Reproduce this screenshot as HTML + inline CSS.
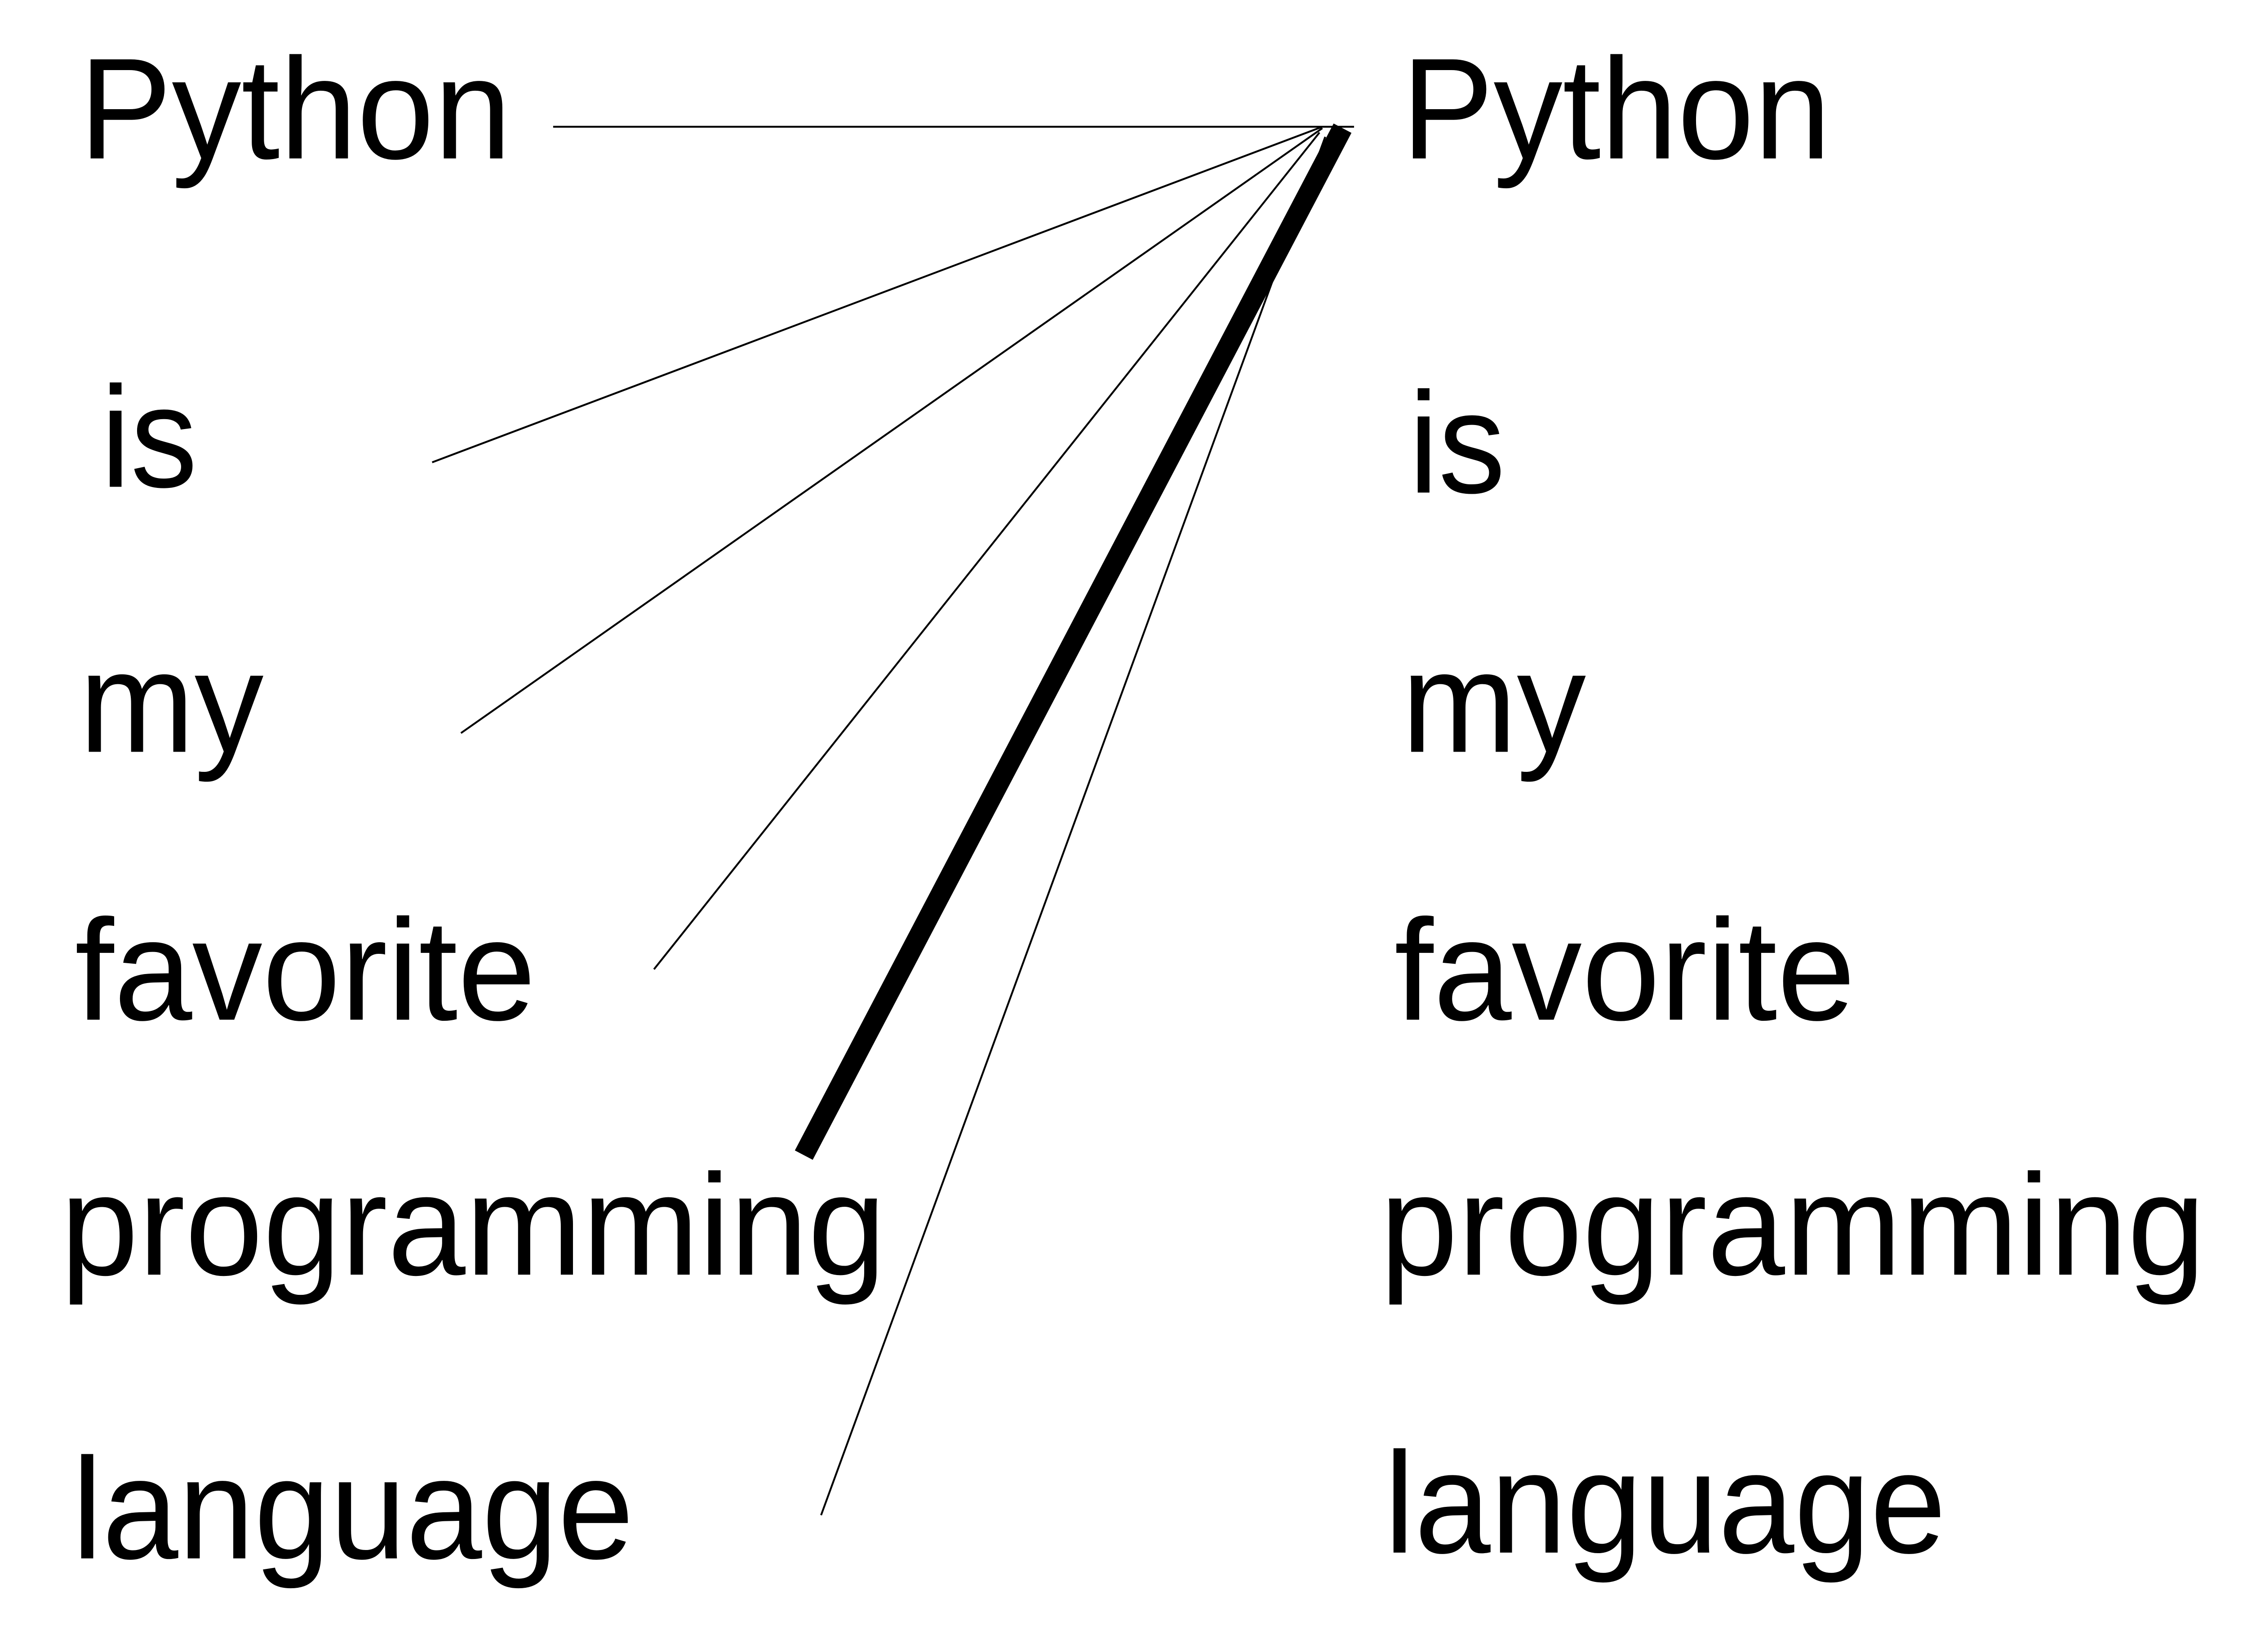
<!DOCTYPE html>
<html><head><meta charset="utf-8"><style>
html,body{margin:0;padding:0;background:#fff;width:5026px;height:3677px;overflow:hidden}
svg{display:block}
text{font-family:"Liberation Sans",sans-serif;font-size:100px;fill:#000}
</style></head><body>
<svg width="5026" height="3677" viewBox="0 0 1568 1147" preserveAspectRatio="none">
<g stroke="#000" stroke-width="1.3" fill="none">
<line x1="384" y1="88" x2="940" y2="88"/>
<line x1="300" y1="321" x2="918" y2="88"/>
<line x1="320" y1="509" x2="918" y2="89"/>
<line x1="454" y1="673" x2="916" y2="92"/>
<line x1="570" y1="1052" x2="920" y2="95"/>
</g>
<line x1="558" y1="802" x2="932" y2="89" stroke="#000" stroke-width="14"/>
<g>
<text x="55" y="110" textLength="300" lengthAdjust="spacingAndGlyphs">Python</text>
<text x="70" y="338" textLength="67" lengthAdjust="spacingAndGlyphs">is</text>
<text x="55" y="522" textLength="128" lengthAdjust="spacingAndGlyphs">my</text>
<text x="52" y="708" textLength="320" lengthAdjust="spacingAndGlyphs">favorite</text>
<text x="42" y="885" textLength="573" lengthAdjust="spacingAndGlyphs">programming</text>
<text x="50" y="1082" textLength="390" lengthAdjust="spacingAndGlyphs">language</text>
<text x="973" y="110" textLength="298" lengthAdjust="spacingAndGlyphs">Python</text>
<text x="978" y="342" textLength="67" lengthAdjust="spacingAndGlyphs">is</text>
<text x="973" y="522" textLength="128" lengthAdjust="spacingAndGlyphs">my</text>
<text x="968" y="708" textLength="320" lengthAdjust="spacingAndGlyphs">favorite</text>
<text x="958" y="885" textLength="573" lengthAdjust="spacingAndGlyphs">programming</text>
<text x="961" y="1078" textLength="390" lengthAdjust="spacingAndGlyphs">language</text>
</g>
</svg>
</body></html>
